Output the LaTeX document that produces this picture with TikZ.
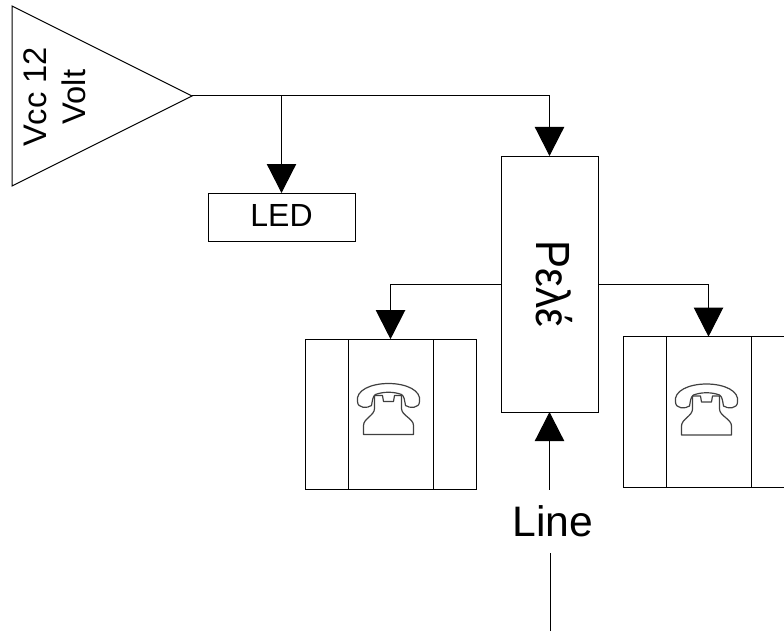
\documentclass[tikz,border=0pt]{standalone}
\usepackage{fontspec}
\setmainfont{Liberation Sans}
\usetikzlibrary{arrows.meta,positioning,calc,shapes.geometric}

\begin{document}
\begin{tikzpicture}[x=.75pt, y=-.75pt, line width=.75pt, >={Triangle[length=21.75pt,width=22pt]},
  blockbox/.style={draw, outer sep=0pt, inner sep=0pt, align=center},
  phonecell/.style={blockbox, minimum width=63.75pt, minimum height=113pt},
  sidecell/.style={blockbox, minimum width=32.25pt, minimum height=113pt},
  phoneicon/.pic={
    \draw[line width=.9pt, black!75, line join=round] (-25,26) -- (-25,17) .. controls (-25,10) and (-14,7) .. (-14,0)
      -- (-14,-13) -- (-6,-13) -- (-5,-7) -- (5,-7) -- (6,-13) -- (13,-13) -- (13,0)
      .. controls (13,7) and (25,10) .. (25,17) -- (25,26) -- cycle;
    \draw[line width=.9pt, black!75, line join=round] (-17,-3) .. controls (-21,0) and (-31,0) .. (-31,-7)
      .. controls (-33,-18) and (-18,-25) .. (0,-25) .. controls (18,-25) and (33,-18) .. (31,-7)
      .. controls (31,0) and (21,0) .. (17,-3) .. controls (16,-8) and (16,-12) .. (13,-14)
      .. controls (5,-17) and (-5,-17) .. (-13,-14) .. controls (-16,-12) and (-16,-8) .. (-17,-3) -- cycle;
  }]
  \clip (0,0) rectangle (784,631);
  \node[draw, isosceles triangle, isosceles triangle apex angle=53.13, isosceles triangle stretches,
    minimum width=135pt, minimum height=135pt, inner sep=0pt, outer sep=0pt, anchor=apex](vcc) at (192,96){};
  \node[rotate=90, align=center, font=\fontsize{24.5}{29.5}\selectfont](vcclabel) at (55,97){Vcc 12\\Volt};
  \node[blockbox, minimum width=110.25pt, minimum height=36pt, font=\fontsize{24}{29}\selectfont](led) at (281.5,217){\raisebox{2pt}{LED}};
  \node[blockbox, minimum width=72.75pt, minimum height=192pt, font=\fontsize{30}{36}\selectfont](relay) at (549.5,284){\hspace*{7pt}\rotatebox{-90}{\scalebox{1.05}[1.2]{Ρελέ}}};
  \node[phonecell](phoneL) at (390.5,414.5){};
  \node[sidecell, left=0pt of phoneL](phoneLa){};
  \node[sidecell, right=0pt of phoneL](phoneLb){};
  \node[phonecell](phoneR) at (708.5,412){};
  \node[sidecell, left=0pt of phoneR](phoneRa){};
  \node[sidecell, right=0pt of phoneR](phoneRb){};
  \pic at ([shift={(-2,-6)}]phoneL.center) {phoneicon};
  \pic at ([shift={(-2,-3)}]phoneR.center) {phoneicon};
  \node[minimum height=46.5pt, inner sep=0pt, font=\fontsize{32}{38}\selectfont](linelabel) at (553,521){Line};
  \coordinate (lineend) at (550,631);

  \draw[->](vcc.apex) -| (relay.north);
  \draw[->](vcc.apex -| led.north) -- (led.north);
  \draw[->](relay.west) -| (phoneL.north);
  \draw[->](relay.east) -| (phoneR.north);
  \draw[->](linelabel.north -| relay.south) -- (relay.south);
  \draw(lineend) -- (linelabel.south -| lineend);
\end{tikzpicture}
\end{document}
